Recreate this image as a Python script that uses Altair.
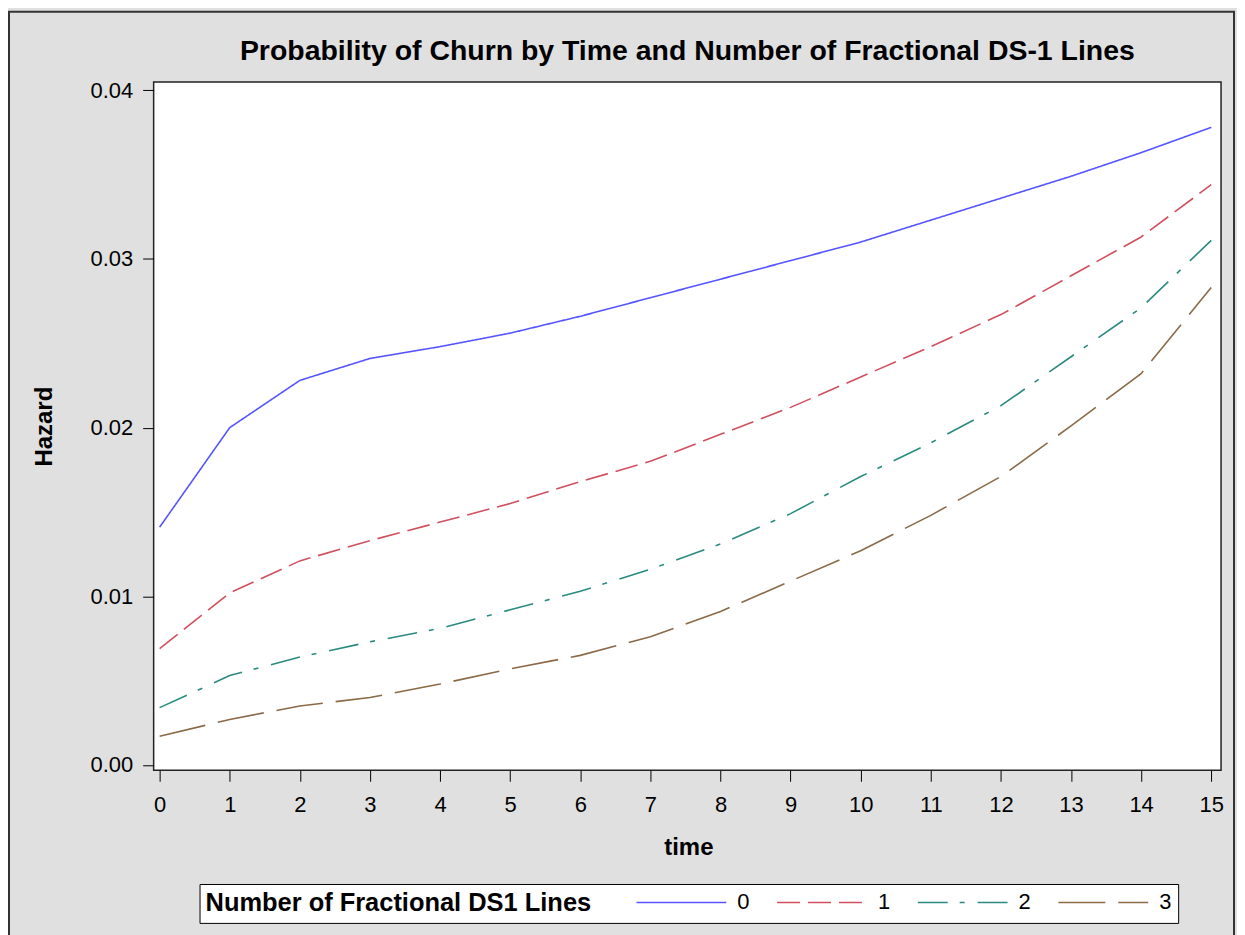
import altair as alt
import pandas as pd

# ---- data ----
time = list(range(16))
lines_0 = [0.0141, 0.0200, 0.0228, 0.0241, 0.0248, 0.0256, 0.0266, 0.0277,
           0.0288, 0.0299, 0.0310, 0.0323, 0.0336, 0.0349, 0.0363, 0.0378]
lines_1 = [0.0069, 0.0102, 0.0121, 0.0133, 0.0144, 0.0155, 0.0168, 0.0180,
           0.0196, 0.0212, 0.0230, 0.0248, 0.0267, 0.0290, 0.0313, 0.0344]
lines_2 = [0.0034, 0.0053, 0.0064, 0.0073, 0.0081, 0.0092, 0.0103, 0.0116,
           0.0131, 0.0149, 0.0171, 0.0191, 0.0213, 0.0242, 0.0271, 0.0311]
lines_3 = [0.0017, 0.0027, 0.0035, 0.0040, 0.0048, 0.0057, 0.0065, 0.0076,
           0.0091, 0.0109, 0.0127, 0.0148, 0.0171, 0.0201, 0.0232, 0.0283]
groups = ["0", "1", "2", "3"]
y_ticks = [0.0, 0.01, 0.02, 0.03, 0.04]

series = [lines_0, lines_1, lines_2, lines_3]
rows = []
for g, vals in zip(groups, series):
    for t, v in zip(time, vals):
        rows.append({"time": t, "Hazard": v, "group": g})
df = pd.DataFrame(rows)

FONT = "Liberation Sans"
colors = ["#5555ff", "#d0505e", "#2a8a80", "#8b6a47"]
dashes = [[1, 0], [23, 8], [30, 12, 5, 13], [47, 13]]

legend = alt.Legend(
    title="Number of Fractional DS1 Lines",
    orient="none", legendX=46, legendY=804,
    direction="horizontal", titleOrient="left",
    titleFont=FONT, titleFontSize=25.5, titleFontWeight="bold", titleColor="black",
    titlePadding=44, titleLimit=1000,
    labelFont=FONT, labelFontSize=22, labelColor="black",
    symbolType="stroke", symbolSize=8100, symbolStrokeWidth=1.6,
    clipHeight=25, labelOffset=10, columnPadding=26, padding=6,
    strokeColor="black", fillColor="white",
)

lines = alt.Chart(df).mark_line(strokeWidth=1.6).encode(
    x=alt.X("time:Q",
            scale=alt.Scale(domain=[-0.0854, 15.14], nice=False, zero=False),
            axis=alt.Axis(values=time, format="d", title="time",
                          labelPadding=13, labelFlush=False,
                          titleX=536, titleY=84, titleBaseline="alphabetic",
                          titleAlign="center")),
    y=alt.Y("Hazard:Q",
            scale=alt.Scale(domain=[-0.000313, 0.040491], nice=False, zero=False),
            axis=alt.Axis(values=y_ticks, format=".2f", title="Hazard",
                          labelPadding=10, labelFlush=False,
                          titleX=-102, titleY=345, titleAngle=270,
                          titleBaseline="alphabetic", titleAlign="center")),
    color=alt.Color("group:N", scale=alt.Scale(domain=groups, range=colors), legend=legend),
    strokeDash=alt.StrokeDash("group:N", scale=alt.Scale(domain=groups, range=dashes), legend=legend),
)

frame = alt.Chart(pd.DataFrame({"k": [0]})).mark_rect(
    fillOpacity=0, stroke="#333333", strokeWidth=2
).encode(
    x=alt.value(-145), x2=alt.value(1083), y=alt.value(-70.5), y2=alt.value(900)
)

chart = alt.layer(frame, lines).properties(
    width=1070, height=690,
    title=alt.TitleParams("Probability of Churn by Time and Number of Fractional DS-1 Lines",
                          font=FONT, fontSize=28.5, fontWeight="bold", color="black",
                          anchor="middle", offset=17, dy=71.5),
    autosize=alt.AutoSizeParams(type="none"),
    padding={"left": 146, "top": 73, "right": 16, "bottom": 170},
    background="#e0e0e0",
).configure_view(
    fill="white", stroke="#222222", strokeWidth=1.5
).configure_axis(
    domain=False, grid=False, ticks=True, tickColor="black", tickSize=11, tickWidth=1,
    labelFont=FONT, labelFontSize=22, labelColor="black",
    titleFont=FONT, titleFontSize=24, titleFontWeight="bold", titleColor="black",
)

chart.save("out.html", embed_options={"renderer": "svg", "actions": False})
